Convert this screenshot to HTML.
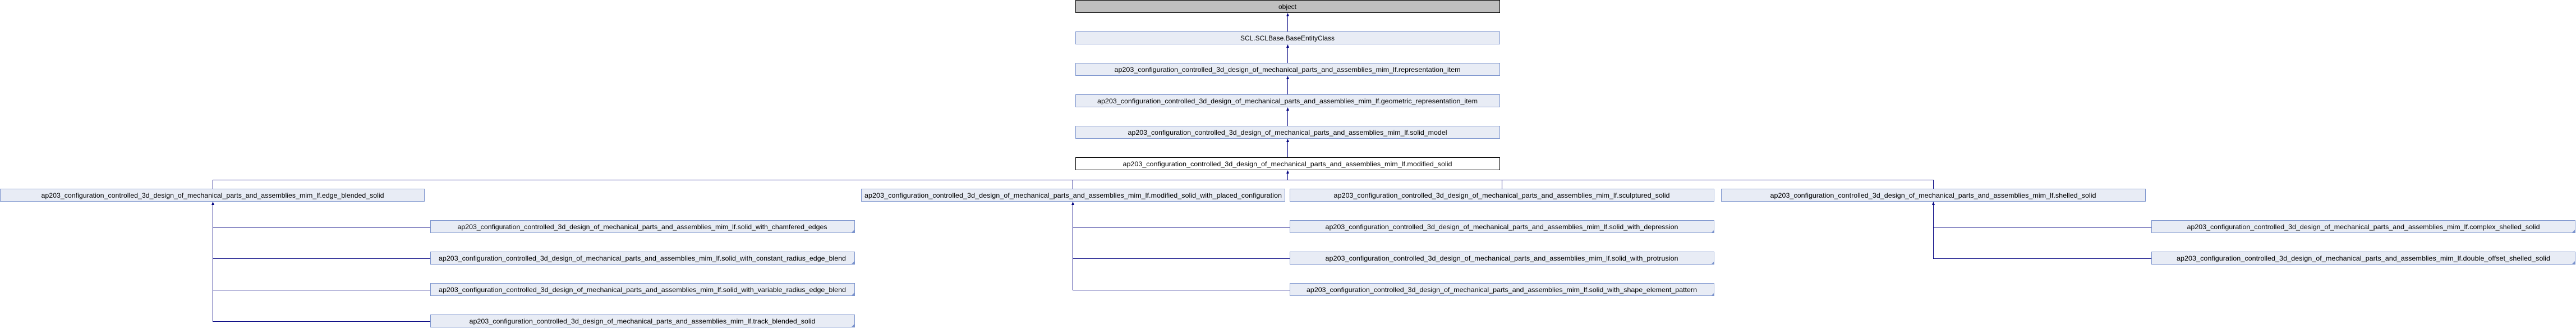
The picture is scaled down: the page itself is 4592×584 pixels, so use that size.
<!DOCTYPE html>
<html><head><meta charset="utf-8"><style>html,body{margin:0;padding:0;background:#fff}svg{display:block}</style></head><body>
<svg xmlns="http://www.w3.org/2000/svg" width="4592" height="584" viewBox="0 0 4592 584" font-family="Liberation Sans, sans-serif" font-size="12">
<defs>
<style>
.n{fill:#e8ecf5;stroke:#7b93cd;stroke-width:1}
.l{stroke:#000080;stroke-width:1;fill:none}
.a{fill:#000080}
.c{fill:#7b93cd}
text{fill:#000;text-anchor:middle}
</style>
</defs>
<!-- top chain -->
<rect x="1917.5" y="0.5" width="756" height="22" fill="#bfbfbf" stroke="#000"/>
<text x="2295" y="16">object</text>
<rect class="n" x="1917.5" y="56.5" width="756" height="22"/>
<text x="2295" y="72">SCL.SCLBase.BaseEntityClass</text>
<rect class="n" x="1917.5" y="112.5" width="756" height="22"/>
<text x="2295" y="128" textLength="617" lengthAdjust="spacingAndGlyphs">ap203_configuration_controlled_3d_design_of_mechanical_parts_and_assemblies_mim_lf.representation_item</text>
<rect class="n" x="1917.5" y="168.5" width="756" height="22"/>
<text x="2295" y="184" textLength="678" lengthAdjust="spacingAndGlyphs">ap203_configuration_controlled_3d_design_of_mechanical_parts_and_assemblies_mim_lf.geometric_representation_item</text>
<rect class="n" x="1917.5" y="224.5" width="756" height="22"/>
<text x="2295" y="240" textLength="569" lengthAdjust="spacingAndGlyphs">ap203_configuration_controlled_3d_design_of_mechanical_parts_and_assemblies_mim_lf.solid_model</text>
<rect x="1917.5" y="280.5" width="756" height="22" fill="#fff" stroke="#000"/>
<text x="2295" y="296" textLength="587" lengthAdjust="spacingAndGlyphs">ap203_configuration_controlled_3d_design_of_mechanical_parts_and_assemblies_mim_lf.modified_solid</text>
<!-- chain connectors -->
<path class="l" d="M2295.5 56V27M2295.5 112V83M2295.5 168V139M2295.5 224V195M2295.5 280V251M2295.5 320V307"/>
<path class="a" d="M2293 29L2295.5 23L2298 29ZM2293 85L2295.5 79L2298 85ZM2293 141L2295.5 135L2298 141ZM2293 197L2295.5 191L2298 197ZM2293 253L2295.5 247L2298 253ZM2293 309L2295.5 303L2298 309Z"/>
<!-- bus -->
<path class="l" d="M379.5 336V320.5H3446.5V336M1912.5 320V336M2677.5 320V336"/>
<!-- level 2 -->
<rect class="n" x="0.5" y="336.5" width="756" height="22"/>
<text x="379" y="352" textLength="611" lengthAdjust="spacingAndGlyphs">ap203_configuration_controlled_3d_design_of_mechanical_parts_and_assemblies_mim_lf.edge_blended_solid</text>
<rect class="n" x="1535.5" y="336.5" width="755" height="22"/>
<text x="1913" y="352" textLength="744" lengthAdjust="spacingAndGlyphs">ap203_configuration_controlled_3d_design_of_mechanical_parts_and_assemblies_mim_lf.modified_solid_with_placed_configuration</text>
<rect class="n" x="2299.5" y="336.5" width="756" height="22"/>
<text x="2677" y="352" textLength="599" lengthAdjust="spacingAndGlyphs">ap203_configuration_controlled_3d_design_of_mechanical_parts_and_assemblies_mim_lf.sculptured_solid</text>
<rect class="n" x="3068.5" y="336.5" width="756" height="22"/>
<text x="3446" y="352" textLength="581" lengthAdjust="spacingAndGlyphs">ap203_configuration_controlled_3d_design_of_mechanical_parts_and_assemblies_mim_lf.shelled_solid</text>
<!-- child connectors -->
<path class="l" d="M379.5 363V572.5H767M379.5 404.5H767M379.5 460.5H767M379.5 516.5H767"/>
<path class="l" d="M1912.5 363V516.5H2299M1912.5 404.5H2299M1912.5 460.5H2299"/>
<path class="l" d="M3446.5 363V460.5H3835M3446.5 404.5H3835"/>
<path class="a" d="M377 365L379.5 359L382 365ZM1910 365L1912.5 359L1915 365ZM3444 365L3446.5 359L3449 365Z"/>
<!-- left children -->
<rect class="n" x="767.5" y="392.5" width="756" height="22"/>
<text x="1145" y="408" textLength="659" lengthAdjust="spacingAndGlyphs">ap203_configuration_controlled_3d_design_of_mechanical_parts_and_assemblies_mim_lf.solid_with_chamfered_edges</text>
<rect class="n" x="767.5" y="448.5" width="756" height="22"/>
<text x="1145" y="464" textLength="726" lengthAdjust="spacingAndGlyphs">ap203_configuration_controlled_3d_design_of_mechanical_parts_and_assemblies_mim_lf.solid_with_constant_radius_edge_blend</text>
<rect class="n" x="767.5" y="504.5" width="756" height="22"/>
<text x="1145" y="520" textLength="726" lengthAdjust="spacingAndGlyphs">ap203_configuration_controlled_3d_design_of_mechanical_parts_and_assemblies_mim_lf.solid_with_variable_radius_edge_blend</text>
<rect class="n" x="767.5" y="560.5" width="756" height="22"/>
<text x="1145" y="576" textLength="617" lengthAdjust="spacingAndGlyphs">ap203_configuration_controlled_3d_design_of_mechanical_parts_and_assemblies_mim_lf.track_blended_solid</text>
<!-- middle children -->
<rect class="n" x="2299.5" y="392.5" width="756" height="22"/>
<text x="2677" y="408" textLength="629" lengthAdjust="spacingAndGlyphs">ap203_configuration_controlled_3d_design_of_mechanical_parts_and_assemblies_mim_lf.solid_with_depression</text>
<rect class="n" x="2299.5" y="448.5" width="756" height="22"/>
<text x="2677" y="464" textLength="629" lengthAdjust="spacingAndGlyphs">ap203_configuration_controlled_3d_design_of_mechanical_parts_and_assemblies_mim_lf.solid_with_protrusion</text>
<rect class="n" x="2299.5" y="504.5" width="756" height="22"/>
<text x="2677" y="520" textLength="696" lengthAdjust="spacingAndGlyphs">ap203_configuration_controlled_3d_design_of_mechanical_parts_and_assemblies_mim_lf.solid_with_shape_element_pattern</text>
<!-- right children -->
<rect class="n" x="3835.5" y="392.5" width="755" height="22"/>
<text x="4213" y="408" textLength="629" lengthAdjust="spacingAndGlyphs">ap203_configuration_controlled_3d_design_of_mechanical_parts_and_assemblies_mim_lf.complex_shelled_solid</text>
<rect class="n" x="3835.5" y="448.5" width="755" height="22"/>
<text x="4213" y="464" textLength="666" lengthAdjust="spacingAndGlyphs">ap203_configuration_controlled_3d_design_of_mechanical_parts_and_assemblies_mim_lf.double_offset_shelled_solid</text>
<!-- corner marks -->
<path class="c" d="M1523 409L1523 415L1517 415ZM1523 465L1523 471L1517 471ZM1523 521L1523 527L1517 527ZM1523 577L1523 583L1517 583ZM3056 409L3056 415L3050 415ZM3056 465L3056 471L3050 471ZM3056 521L3056 527L3050 527ZM4590 409L4590 415L4584 415ZM4590 465L4590 471L4584 471Z"/>
</svg>
</body></html>
